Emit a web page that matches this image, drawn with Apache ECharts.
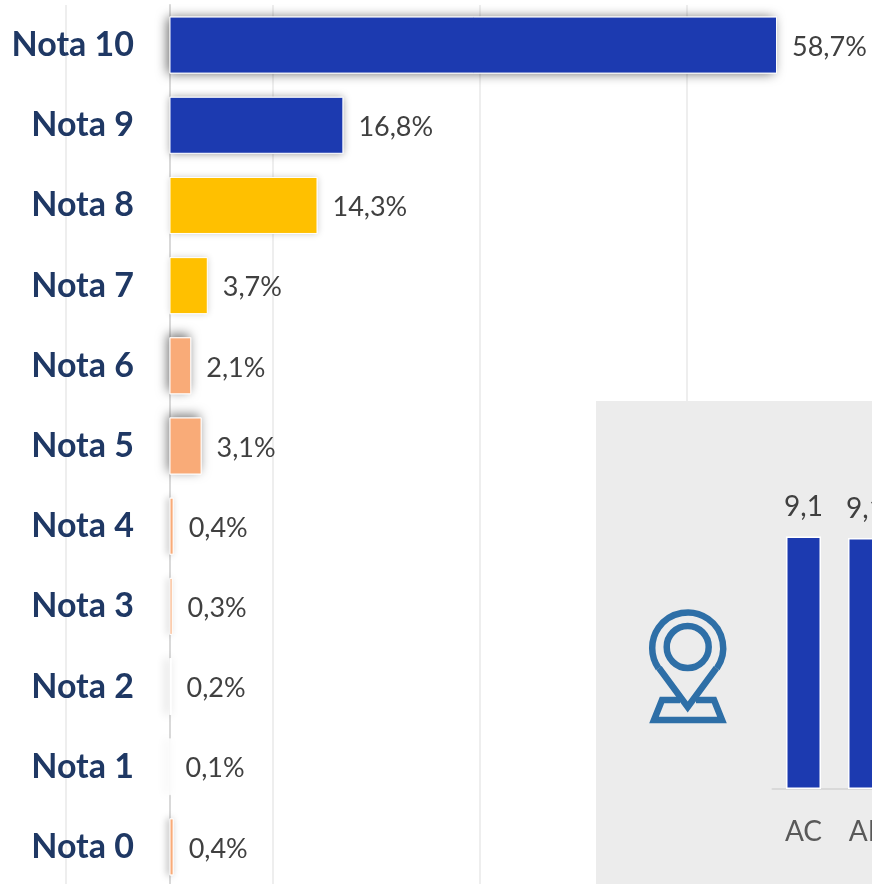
<!DOCTYPE html>
<html><head><meta charset="utf-8">
<style>html,body{margin:0;padding:0;background:#fff;overflow:hidden}#c{width:872px;height:884px}</style>
<script src="https://cdn.jsdelivr.net/npm/echarts@6/dist/echarts.min.js"></script>
</head><body><div id="c"></div>
<script>
const categories = ['Nota 10','Nota 9','Nota 8','Nota 7','Nota 6','Nota 5','Nota 4','Nota 3','Nota 2','Nota 1','Nota 0'];
const values = [58.7,16.8,14.3,3.7,2.1,3.1,0.4,0.3,0.2,0.1,0.4];
const states = ['AC','AL'];
const stateValues = [9.12,9.06];

const BLUE='#1c3ab0', GOLD='#ffc000', PEACH='#f9ab78';
const barColors=[BLUE,BLUE,GOLD,GOLD,PEACH,PEACH,PEACH,PEACH,'#fff','#fff',PEACH];
const barShadows=[
 [11,'rgba(0,0,0,.6)',-3,0],[8,'rgba(0,0,0,.4)',0,0],[7,'rgba(0,0,0,.22)',0,0],[7,'rgba(0,0,0,.2)',0,0],
 [11,'rgba(0,0,0,.55)',-2,-3],[11,'rgba(0,0,0,.5)',-2,-3],[7,'rgba(0,0,0,.3)',-2,0],[7,'rgba(0,0,0,.22)',-2,0],
 [10,'rgba(0,0,0,.32)',-3,0],[10,'rgba(0,0,0,.22)',-3,0],[7,'rgba(0,0,0,.35)',-2,0]];
const comma=v=>String(v).replace('.',',');
const FONT='Lato';
const ICON='#2e6fa7';
const iconStroke={fill:'none',stroke:ICON,lineWidth:6.5,lineJoin:'miter'};
const chart=echarts.init(document.getElementById('c'));
chart.setOption({
 animation:false,
 backgroundColor:'#fff',
 grid:[
  {left:66,right:-22,top:5,bottom:-3,outerBoundsMode:'none'},
  {left:772.5,right:-24.5,top:512,bottom:95,outerBoundsMode:'none'}
 ],
 xAxis:[
  {gridIndex:0,type:'value',min:-10,max:70,interval:20,
   axisLabel:{show:false},axisLine:{show:false},axisTick:{show:false},
   splitLine:{show:true,lineStyle:{color:'#eeeeee',width:2}}},
  {gridIndex:1,type:'category',data:states,z:3,
   axisTick:{show:false},axisLine:{lineStyle:{color:'#d9d9d9',width:2}},
   axisLabel:{color:'#595959',fontSize:28,fontFamily:FONT,margin:29}}
 ],
 yAxis:[
  {gridIndex:0,type:'category',data:categories,inverse:true,
   axisTick:{show:false},axisLine:{onZero:true,lineStyle:{color:'#d9d9d9',width:2}},
   axisLabel:{color:'#1f3864',fontSize:34,fontWeight:'bold',fontFamily:FONT,margin:-68}},
  {gridIndex:1,type:'value',min:0,max:10,show:false}
 ],
 series:[
  {type:'bar',xAxisIndex:0,yAxisIndex:0,barWidth:57,barGap:'-100%',silent:true,
   data:values.map((v,i)=>({value:v,itemStyle:{color:'#fff',
     shadowBlur:barShadows[i][0],shadowColor:barShadows[i][1],shadowOffsetX:barShadows[i][2],shadowOffsetY:barShadows[i][3]}}))},
  {type:'bar',xAxisIndex:0,yAxisIndex:0,barWidth:57,barGap:'-100%',
   data:values.map((v,i)=>({value:v,itemStyle:{color:barColors[i],borderColor:'#fff',borderWidth:1}})),
   label:{show:true,position:'right',distance:15,offset:[0,2],color:'#404040',fontSize:27,fontFamily:FONT,
     formatter:p=>comma(p.value.toFixed(1))+'%'}},
  {type:'bar',xAxisIndex:1,yAxisIndex:1,barWidth:35,z:3,
   data:stateValues,
   itemStyle:{color:BLUE,borderColor:'#fff',borderWidth:1.5},
   label:{show:true,position:'top',distance:15,color:'#404040',fontSize:28,fontFamily:FONT,
     formatter:p=>comma(p.value.toFixed(1))}}
 ],
 graphic:[
  {type:'rect',z:1,shape:{x:596,y:401,width:276,height:483},style:{fill:'#ececec'},silent:true},
  {type:'polyline',z:4,shape:{points:[[680,700],[662,700],[654,720],[722,720],[714,700],[696,700]]},style:iconStroke,silent:true},
  {type:'polyline',z:4,shape:{points:[[659,668],[687.7,707],[716.4,668]]},style:iconStroke,silent:true},
  {type:'arc',z:4,shape:{cx:687.7,cy:648,r:35.5,startAngle:0.609,endAngle:Math.PI-0.609,clockwise:false},style:iconStroke,silent:true},
  {type:'circle',z:4,shape:{cx:687.7,cy:647,r:21},style:{fill:'none',stroke:ICON,lineWidth:6.5},silent:true}
 ]
});
</script></body></html>
